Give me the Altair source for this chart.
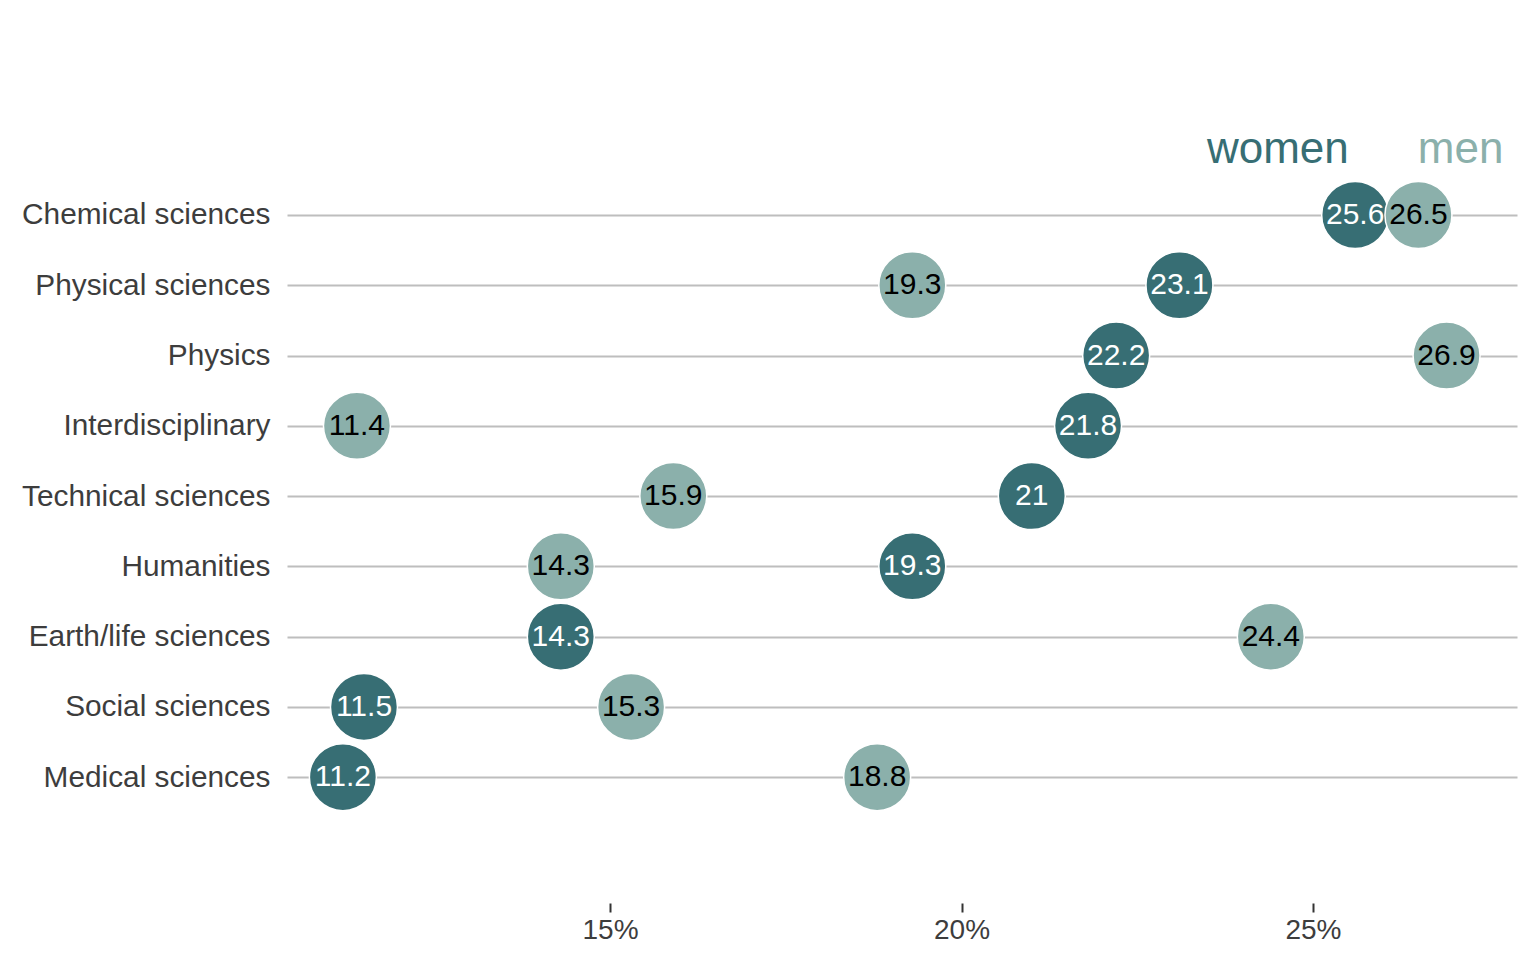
import altair as alt
import pandas as pd

categories = ["Chemical sciences", "Physical sciences", "Physics", "Interdisciplinary",
              "Technical sciences", "Humanities", "Earth/life sciences",
              "Social sciences", "Medical sciences"]
women = [25.6, 23.1, 22.2, 21.8, 21.0, 19.3, 14.3, 11.5, 11.2]
men = [26.5, 19.3, 26.9, 11.4, 15.9, 14.3, 24.4, 15.3, 18.8]
x_ticks = [15, 20, 25]
legend_labels = ["women", "men"]
legend_x = [24.5, 27.1]

WOMEN_C = "#376E74"
MEN_C = "#8BB0AB"

n = len(categories)
rows = list(range(n, 0, -1))  # Chemical at top = 9 ... Medical = 1

def fmt(v):
    return f"{v:g}"

dw = pd.DataFrame({"cat": categories, "row": rows, "value": women,
                   "label": [fmt(v) for v in women]})
dm = pd.DataFrame({"cat": categories, "row": rows, "value": men,
                   "label": [fmt(v) for v in men]})
dleg = pd.DataFrame({"label": legend_labels, "x": legend_x, "row": [n + 0.93, n + 0.93]})

label_map = "{" + ",".join(f"'{r}':'{c}'" for r, c in zip(rows, categories)) + "}"

xscale = alt.Scale(domain=[10.405, 27.902], nice=False, zero=False)
yscale = alt.Scale(domain=[-0.79, 11.49], nice=False, zero=False)

xaxis = alt.Axis(values=x_ticks, labelExpr="datum.value + '%'", title=None,
                 grid=False, domain=False, ticks=True, tickSize=9, tickWidth=2,
                 tickColor="#333333", labelFontSize=28, labelColor="#3D3D3D",
                 labelFont="Liberation Sans", labelPadding=4)
yaxis = alt.Axis(values=rows, labelExpr=label_map + "[datum.value]", title=None,
                 grid=True, gridColor="#BEBEBE", gridWidth=2, domain=False,
                 ticks=False, labelFontSize=29.8, labelColor="#3D3D3D",
                 labelFont="Liberation Sans", labelPadding=17, labelLimit=400)

base_w = alt.Chart(dw)
base_m = alt.Chart(dm)

SIZE = 4489

pts_w = base_w.mark_circle(size=SIZE, opacity=1, stroke="white", strokeWidth=1.5,
                           color=WOMEN_C).encode(
    x=alt.X("value:Q", scale=xscale, axis=xaxis),
    y=alt.Y("row:Q", scale=yscale, axis=yaxis))
txt_w = base_w.mark_text(fontSize=30, color="white", font="Liberation Sans",
                         baseline="middle", align="center").encode(
    x=alt.X("value:Q", scale=xscale), y=alt.Y("row:Q", scale=yscale), text="label:N")

pts_m = base_m.mark_circle(size=SIZE, opacity=1, stroke="white", strokeWidth=1.5,
                           color=MEN_C).encode(
    x=alt.X("value:Q", scale=xscale), y=alt.Y("row:Q", scale=yscale))
txt_m = base_m.mark_text(fontSize=30, color="black", font="Liberation Sans",
                         baseline="middle", align="center").encode(
    x=alt.X("value:Q", scale=xscale), y=alt.Y("row:Q", scale=yscale), text="label:N")

leg = alt.Chart(dleg).mark_text(fontSize=44, font="Liberation Sans",
                                baseline="middle", align="center").encode(
    x=alt.X("x:Q", scale=xscale), y=alt.Y("row:Q", scale=yscale), text="label:N",
    color=alt.Color("label:N", scale=alt.Scale(domain=legend_labels,
                                               range=[WOMEN_C, MEN_C]), legend=None))

chart = alt.layer(pts_w, txt_w, pts_m, txt_m, leg).properties(
    width=1230, height=863,
    background="white",
    autosize=alt.AutoSizeParams(type="none"),
    padding={"left": 279, "top": 32, "right": 11, "bottom": 60},
).configure_view(strokeWidth=0, stroke=None)

chart.save("out.html", embed_options={"renderer": "svg", "actions": False})
